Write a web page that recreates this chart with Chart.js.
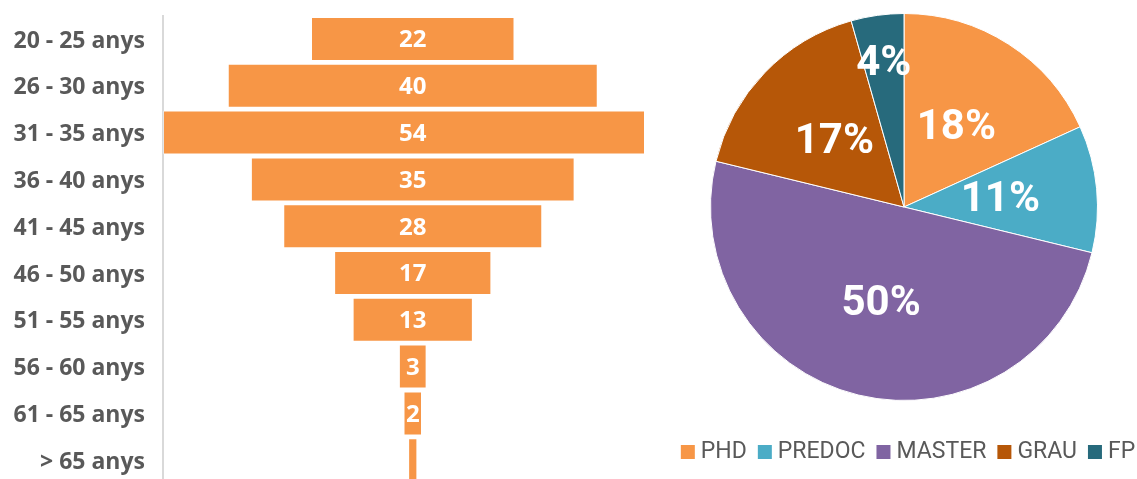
<!DOCTYPE html>
<html lang="ca">
<head>
<meta charset="UTF-8">
<script src="https://cdn.jsdelivr.net/npm/chart.js"></script>
<title>Edat i estudis</title>
<style>
    html, body { margin: 0; padding: 0; background: #fff; overflow: hidden; }
    #wrap { position: relative; width: 1137px; height: 479px; overflow: hidden; }
    #funnel { position: absolute; left: 0; top: 0; }
    #pie { position: absolute; left: 679px; top: 0; }
</style>
</head>
<body>
<div id="wrap">
    <canvas id="funnel" width="660" height="490"></canvas>
    <canvas id="pie" width="458" height="479"></canvas>
</div>
<script>
    // age groups (funnel)
    const ageGroups = [
        '20 - 25 anys',
        '26 - 30 anys',
        '31 - 35 anys',
        '36 - 40 anys',
        '41 - 45 anys',
        '46 - 50 anys',
        '51 - 55 anys',
        '56 - 60 anys',
        '61 - 65 anys',
        '> 65 anys',
    ];
    const ageCounts = [22, 40, 54, 35, 28, 17, 13, 3, 2, 1];

    // study levels (pie), in %
    const studyLevels = ['PHD', 'PREDOC', 'MASTER', 'GRAU', 'FP'];
    const studyShares = [18.2, 10.6, 50.0, 16.8, 4.4];

    const orange = '#F79646';
    const textGrey = '#595959';

    const barLabels = {
        id: 'barLabels',
        afterDatasetsDraw(chart) {
            const ctx = chart.ctx;
            const meta = chart.getDatasetMeta(0);
            ctx.save();
            ctx.font = 'bold 24px "Open Sans"';
            ctx.fillStyle = '#fff';
            ctx.textAlign = 'center';
            ctx.textBaseline = 'middle';
            meta.data.forEach((bar, i) => {
                const text = String(ageCounts[i]);
                const w = Math.abs(bar.x - bar.base);
                if (ctx.measureText(text).width + 4 > w) return;
                ctx.fillText(text, (bar.x + bar.base) / 2, bar.y + 1.5);
            });
            ctx.restore();
        }
    };

    new Chart(document.getElementById('funnel'), {
        type: 'bar',
        data: {
            labels: ageGroups,
            datasets: [{
                data: ageCounts.map(v => [-v / 2, v / 2]),
                backgroundColor: orange,
                borderColor: 'rgba(255,255,255,0.35)',
                borderWidth: 1,
                borderSkipped: false,
                barPercentage: 0.94,
                categoryPercentage: 1
            }]
        },
        options: {
            indexAxis: 'y',
            responsive: false,
            animation: false,
            layout: { padding: { top: 15.6, bottom: 6.4, left: 0, right: 16 } },
            plugins: { legend: { display: false }, tooltip: { enabled: false } },
            scales: {
                x: { display: false, min: -27, max: 25 },
                y: {
                    afterFit: (scale) => {
                        scale.width = 163;
                        scale.paddingTop = 0;
                        scale.paddingBottom = 0;
                    },
                    grid: { display: false, drawTicks: false },
                    border: { display: true, color: '#d9d9d9', width: 2 },
                    ticks: {
                        padding: 18,
                        labelOffset: 2,
                        color: textGrey,
                        font: { family: '"Open Sans"', size: 23, weight: 'bold' }
                    }
                }
            }
        },
        plugins: [barLabels]
    });

    const pieLabels = {
        id: 'pieLabels',
        afterDatasetsDraw(chart) {
            const ctx = chart.ctx;
            const meta = chart.getDatasetMeta(0);
            ctx.save();
            ctx.font = 'bold 42px Roboto';
            ctx.fillStyle = '#fff';
            ctx.textAlign = 'center';
            ctx.textBaseline = 'middle';
            meta.data.forEach((arc, i) => {
                const p = arc.getProps(['x', 'y', 'startAngle', 'endAngle', 'outerRadius']);
                const mid = (p.startAngle + p.endAngle) / 2;
                // small slices get their label pushed outwards
                const k = studyShares[i] < 6 ? 0.76 : 0.5;
                const r = p.outerRadius * k;
                ctx.fillText(Math.round(studyShares[i]) + '%', p.x + Math.cos(mid) * r, p.y + Math.sin(mid) * r + 3);
            });
            ctx.restore();
        }
    };

    const pieLegend = {
        id: 'pieLegend',
        afterDraw(chart) {
            const ctx = chart.ctx;
            const colors = chart.data.datasets[0].backgroundColor;
            const box = 14, gap = 6, space = 11, y = 452;
            ctx.save();
            ctx.font = '23px Roboto';
            ctx.textBaseline = 'middle';
            const widths = chart.data.labels.map(t => ctx.measureText(t).width);
            const total = widths.reduce((a, w) => a + box + gap + w, 0) + space * (widths.length - 1);
            let x = (chart.width - total) / 2;
            chart.data.labels.forEach((t, i) => {
                ctx.fillStyle = colors[i];
                ctx.fillRect(x, y - box / 2, box, box);
                ctx.fillStyle = textGrey;
                ctx.fillText(t, x + box + gap, y);
                x += box + gap + widths[i] + space;
            });
            ctx.restore();
        }
    };

    new Chart(document.getElementById('pie'), {
        type: 'pie',
        data: {
            labels: studyLevels,
            datasets: [{
                data: studyShares,
                backgroundColor: ['#F79646', '#4BACC6', '#8064A2', '#B65708', '#276A7C'],
                borderColor: '#fff',
                borderWidth: 1
            }]
        },
        options: {
            responsive: false,
            animation: false,
            layout: { padding: { top: 13, bottom: 78, left: 0, right: 8 } },
            plugins: { legend: { display: false }, tooltip: { enabled: false } }
        },
        plugins: [pieLabels, pieLegend]
    });
</script>
</body>
</html>
